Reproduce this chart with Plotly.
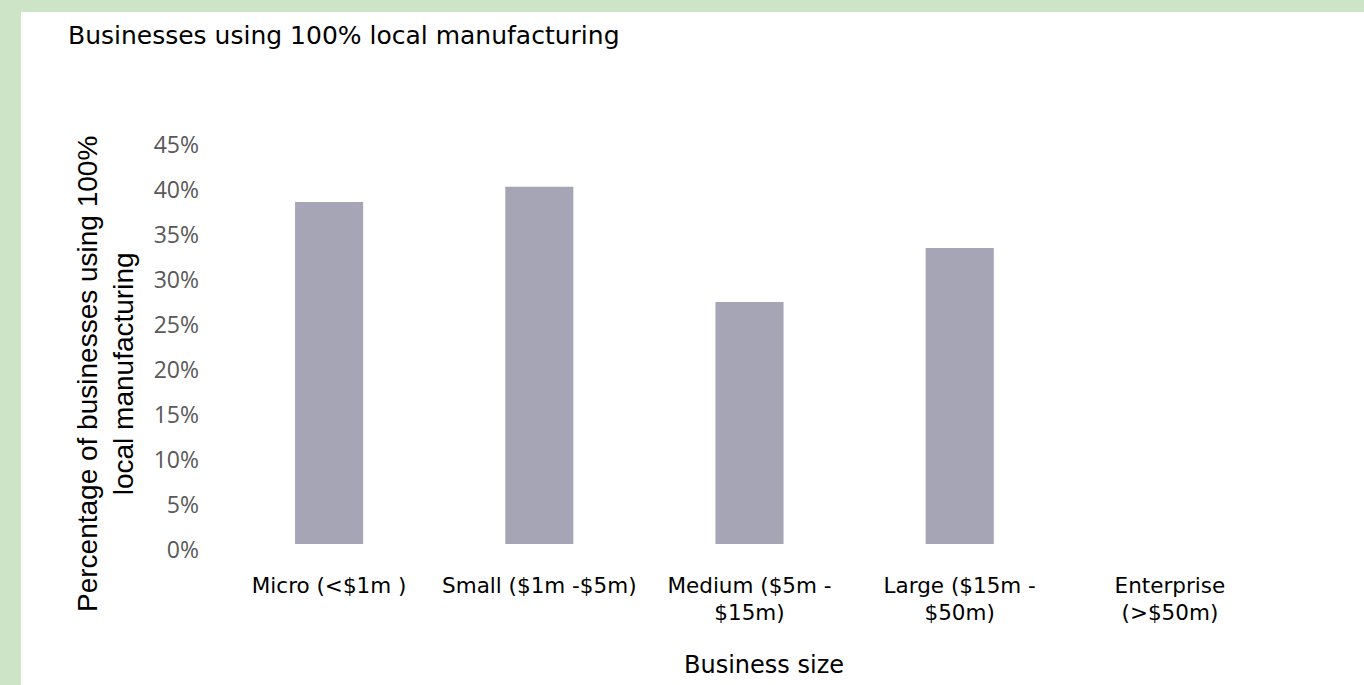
import plotly.graph_objects as go

# Share of businesses that manufacture 100% locally, by business size
categories = [
    "Micro (<$1m )",
    "Small ($1m -$5m)",
    "Medium ($5m -<br>$15m)",
    "Large ($15m -<br>$50m)",
    "Enterprise<br>(>$50m)",
]
share_local = [0.380, 0.397, 0.269, 0.329, 0.0]
y_ticks = [0, 0.05, 0.10, 0.15, 0.20, 0.25, 0.30, 0.35, 0.40, 0.45]

W, H = 1364, 685
L, R, T, B = 224, 89, 139, 141
plot_w = W - L - R
plot_h = H - T - B


def px_to_paper_x(px):
    return (px - L) / plot_w


def px_to_paper_y(py):
    return (H - B - py) / plot_h


fig = go.Figure(
    go.Bar(
        x=categories,
        y=share_local,
        marker=dict(color="#a6a5b6", line=dict(width=0)),
        width=0.324,
        hovertemplate="%{x}: %{y:.1%}<extra></extra>",
    )
)

# green frame around the white card
fig.add_shape(
    type="rect", xref="paper", yref="paper", layer="below",
    x0=px_to_paper_x(21), x1=px_to_paper_x(W + 10),
    y0=px_to_paper_y(H + 10), y1=px_to_paper_y(12),
    fillcolor="white", line=dict(width=0),
)

fig.add_annotation(
    text="Percentage of businesses using 100%<br>local manufacturing",
    xref="paper", yref="paper",
    x=px_to_paper_x(105), y=px_to_paper_y(374),
    xanchor="center", yanchor="middle", textangle=-90,
    showarrow=False,
    font=dict(family="Liberation Sans, Arial, sans-serif", size=28, color="#000000"),
)
fig.add_annotation(
    text="Business size",
    xref="paper", yref="paper",
    x=px_to_paper_x(764), y=px_to_paper_y(665),
    xanchor="center", yanchor="middle",
    showarrow=False,
    font=dict(family="DejaVu Sans, sans-serif", size=24, color="#000000"),
)

fig.update_layout(
    width=W, height=H,
    margin=dict(l=L, r=R, t=T, b=B, pad=0),
    paper_bgcolor="#cde5c6",
    plot_bgcolor="rgba(0,0,0,0)",
    showlegend=False,
    bargap=0.676,
    title=dict(
        text="Businesses using 100% local manufacturing",
        xref="container", yref="container",
        x=68 / W, y=1 - 35 / H,
        xanchor="left", yanchor="middle",
        font=dict(family="DejaVu Sans, sans-serif", size=25, color="#000000"),
    ),
    xaxis=dict(
        showline=False, showgrid=False, zeroline=False, ticks="",
        tickfont=dict(family="DejaVu Sans, sans-serif", size=21.5, color="#000000"),
        ticklabelstandoff=26,
        fixedrange=True,
    ),
    yaxis=dict(
        range=[0, 0.45],
        tickvals=y_ticks,
        tickformat=".0%",
        showline=False, showgrid=False, zeroline=False, ticks="",
        tickfont=dict(family="Open Sans, sans-serif", size=23, color="#595959"),
        ticklabelstandoff=24,
        ticklabelshift=6,
        fixedrange=True,
    ),
)

fig.write_html("out.html")
